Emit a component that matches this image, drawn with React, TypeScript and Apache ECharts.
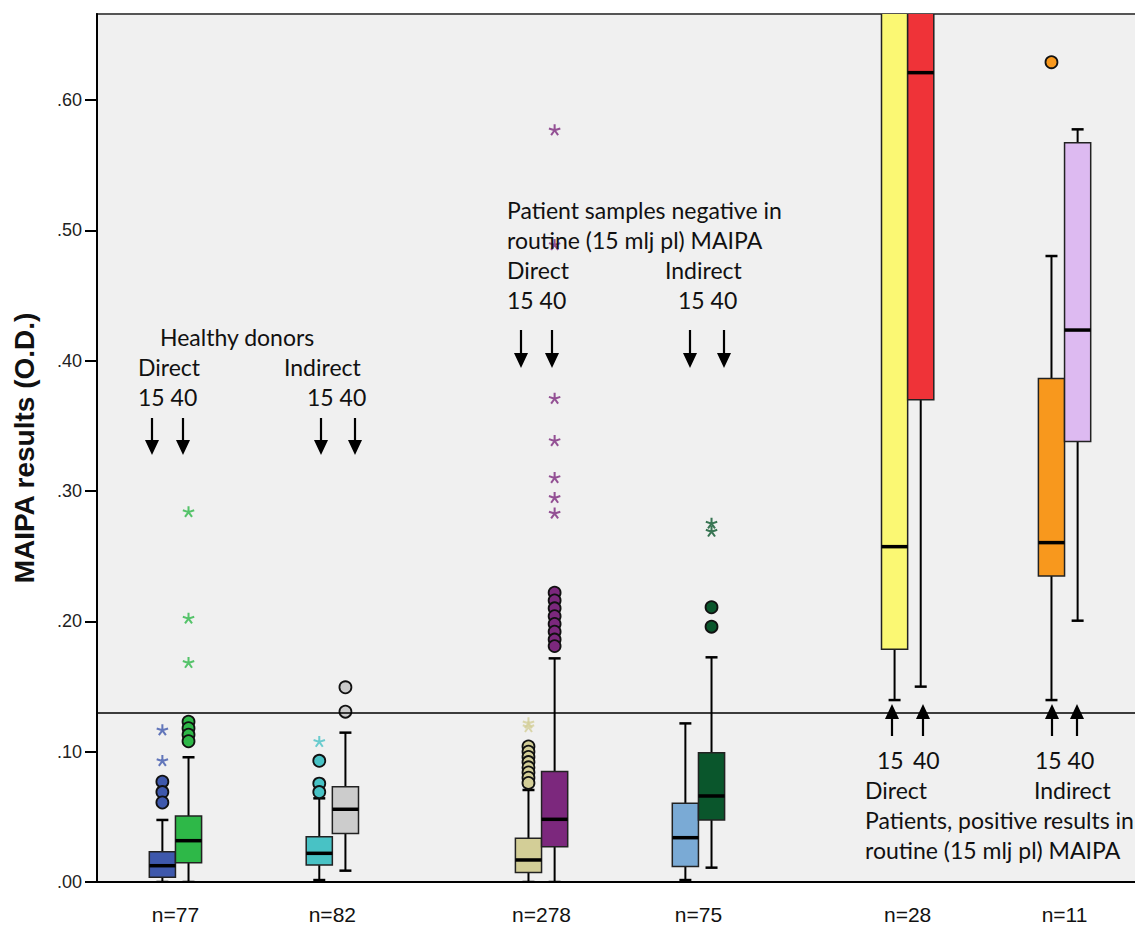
import React, { useEffect, useRef } from "react";
import * as echarts from "echarts";

// ---------- data ----------
const boxNames = [
  "Healthy Direct 15", "Healthy Direct 40", "Healthy Indirect 15", "Healthy Indirect 40",
  "Negative Direct 15", "Negative Direct 40", "Negative Indirect 15", "Negative Indirect 40",
  "Positive Direct 15", "Positive Direct 40", "Positive Indirect 15", "Positive Indirect 40",
];
const boxSlots = [2, 3, 8, 9, 16, 17, 22, 23, 30, 31, 36, 37];
const SLOT_COUNT = 40;

const whiskerLow = [0.0, 0.0, 0.0015, 0.0087, 0.0, 0.0, 0.0015, 0.011, 0.1396, 0.1499, 0.1396, 0.2005];
const q1 = [0.0036, 0.0148, 0.013, 0.0373, 0.0072, 0.0271, 0.0118, 0.0476, 0.1785, 0.37, 0.2348, 0.3379];
const median = [0.0125, 0.0317, 0.022, 0.0558, 0.0169, 0.0481, 0.034, 0.066, 0.2573, 0.621, 0.2604, 0.4235];
const q3 = [0.0233, 0.0506, 0.0348, 0.0731, 0.0335, 0.0847, 0.0604, 0.0992, 0.7, 0.7, 0.3864, 0.5673];
const whiskerHigh = [0.0476, 0.0957, 0.0642, 0.1146, 0.0706, 0.1716, 0.1217, 0.1724, 0.72, 0.72, 0.4803, 0.5775];

const circleOutliers: number[][] = [
  [0.077, 0.069, 0.061],
  [0.123, 0.118, 0.113, 0.108],
  [0.093, 0.0755, 0.069],
  [0.1494, 0.1307],
  [0.104, 0.1, 0.096, 0.092, 0.088, 0.084, 0.08, 0.076],
  [0.222, 0.216, 0.21, 0.204, 0.198, 0.192, 0.186, 0.181],
  [],
  [0.2108, 0.1959],
  [],
  [],
  [0.629],
  [],
];
const starOutliers: number[][] = [
  [0.1166, 0.093],
  [0.284, 0.2023, 0.1683],
  [0.1077],
  [],
  [0.122, 0.119],
  [0.577, 0.489, 0.371, 0.3386, 0.3102, 0.2949, 0.2829],
  [],
  [0.2752, 0.269],
  [],
  [],
  [],
  [],
];

const boxColors = [
  "#3E58AC", "#2EB848", "#48C2C5", "#CCCCCC", "#D3CE97", "#7C287D",
  "#7AAAD5", "#0A562C", "#FBF873", "#EF3338", "#F8981D", "#DDBAF1",
];

const nLabels = ["n=77", "n=82", "n=278", "n=75", "n=28", "n=11"];
const yTicks = [0, 0.1, 0.2, 0.3, 0.4, 0.5, 0.6];
const Y_MAX = 0.666;
const cutoff = 0.13;
const yAxisTitle = "MAIPA results (O.D.)";

// ---------- helpers ----------
function asteriskPath(): string {
  const R = 10;
  const w = 1.7;
  let d = "";
  for (let i = 0; i < 5; i++) {
    const a = ((-90 + 72 * i) * Math.PI) / 180;
    const c = Math.cos(a), s = Math.sin(a);
    const px = -s, py = c;
    const pts = [
      [px * w, py * w],
      [R * c + px * w, R * s + py * w],
      [R * c - px * w, R * s - py * w],
      [-px * w, -py * w],
    ];
    d += "M" + pts.map((p) => p[0].toFixed(2) + "," + p[1].toFixed(2)).join("L") + "Z";
  }
  return "path://" + d;
}

const FONT = "23px Lato, 'Open Sans', sans-serif";

function txt(s: string, x: number, y: number) {
  return {
    type: "text",
    x,
    y,
    silent: true,
    style: { text: s, font: FONT, fill: "#111", textVerticalAlign: "middle", textAlign: "left" },
    z: 10,
  };
}
function arrow(x: number, yStart: number, yTip: number) {
  const dir = yTip > yStart ? 1 : -1;
  const headH = 15;
  const headW = 7;
  return [
    {
      type: "line",
      silent: true,
      shape: { x1: x, y1: yStart, x2: x, y2: yTip - dir * headH + dir * 2 },
      style: { stroke: "#000", lineWidth: 2.2 },
      z: 10,
    },
    {
      type: "polygon",
      silent: true,
      shape: { points: [[x - headW, yTip - dir * headH], [x + headW, yTip - dir * headH], [x, yTip]] },
      style: { fill: "#000" },
      z: 10,
    },
  ];
}

export default function App() {
  const ref = useRef<HTMLDivElement>(null);

  useEffect(() => {
    if (!ref.current) return;
    const chart = echarts.init(ref.current, undefined, { renderer: "svg" });

    const categories = Array.from({ length: SLOT_COUNT }, (_, i) => {
      const k = boxSlots.indexOf(i);
      return k >= 0 ? boxNames[k] : `gap-${i}`;
    });
    const boundaryCats = Array.from({ length: SLOT_COUNT + 1 }, (_, i) => `b-${i}`);
    const nLabelAt: Record<number, string> = {};
    nLabels.forEach((lab, g) => {
      nLabelAt[(boxSlots[2 * g] + boxSlots[2 * g + 1] + 1) / 2] = lab;
    });

    const boxData = boxSlots.map((slot, i) => [slot, whiskerLow[i], q1[i], median[i], q3[i], whiskerHigh[i]]);

    const circleData: any[] = [];
    const starData: any[] = [];
    boxSlots.forEach((slot, i) => {
      circleOutliers[i].forEach((v) =>
        circleData.push({ value: [slot, v], itemStyle: { color: boxColors[i] } })
      );
      starOutliers[i].forEach((v) =>
        starData.push({ value: [slot, v], itemStyle: { color: boxColors[i] } })
      );
    });

    const graphics: any[] = [
      // Healthy donors
      txt("Healthy donors", 160, 337),
      txt("Direct", 138, 367),
      txt("Indirect", 284, 367),
      txt("15 40", 138, 397),
      txt("15 40", 307, 397),
      ...arrow(152, 418, 455),
      ...arrow(183, 418, 455),
      ...arrow(321, 418, 455),
      ...arrow(355, 418, 455),
      // Negative
      txt("Patient samples negative in", 507, 210),
      txt("routine (15 mlj pl) MAIPA", 507, 240),
      txt("Direct", 507, 270),
      txt("Indirect", 665, 270),
      txt("15 40", 507, 300),
      txt("15 40", 678, 300),
      ...arrow(521, 330, 368),
      ...arrow(552, 330, 368),
      ...arrow(690, 330, 368),
      ...arrow(724, 330, 368),
      // Positive
      ...arrow(892, 736, 704),
      ...arrow(923, 736, 704),
      ...arrow(1052, 736, 704),
      ...arrow(1077, 736, 704),
      txt("15", 877, 760),
      txt("40", 913, 760),
      txt("15 40", 1035, 760),
      txt("Direct", 865, 790),
      txt("Indirect", 1034, 790),
      txt("Patients, positive results in", 865, 820),
      txt("routine (15 mlj pl) MAIPA", 865, 850),
    ];

    const option: any = {
      animation: false,
      backgroundColor: "#ffffff",
      grid: {
        left: 97,
        top: 14,
        width: 1046,
        height: 868,
        show: true,
        backgroundColor: "#F0F0F0",
        borderColor: "#555",
        borderWidth: 2,
        containLabel: false,
        outerBoundsMode: "none",
      },
      xAxis: [
        {
          type: "category",
          data: categories,
          boundaryGap: true,
          position: "bottom",
          axisLine: { show: true, lineStyle: { color: "#000", width: 2 } },
          axisTick: { show: false },
          axisLabel: { show: false },
          splitLine: { show: false },
        },
        {
          type: "category",
          data: boundaryCats,
          boundaryGap: false,
          position: "bottom",
          axisLine: { show: false },
          axisTick: { show: false },
          splitLine: { show: false },
          axisLabel: {
            show: true,
            interval: 0,
            margin: 22,
            color: "#111",
            fontSize: 21,
            fontFamily: "Arial, 'Liberation Sans', sans-serif",
            formatter: (_v: string, idx: number) => nLabelAt[idx] ?? "",
          },
        },
      ],
      yAxis: {
        type: "value",
        min: 0,
        max: Y_MAX,
        interval: 0.1,
        name: yAxisTitle,
        nameLocation: "middle",
        nameRotate: 90,
        nameGap: 59,
        nameTextStyle: {
          fontSize: 28,
          fontWeight: "bold",
          color: "#111",
          fontFamily: "Arial, 'Liberation Sans', sans-serif",
        },
        axisLine: { show: true, lineStyle: { color: "#000", width: 2 } },
        axisTick: { show: true, length: 12, customValues: yTicks, lineStyle: { color: "#000", width: 2 } },
        axisLabel: {
          customValues: yTicks,
          margin: 15,
          fontSize: 18,
          color: "#222",
          fontFamily: "Arial, 'Liberation Sans', sans-serif",
          formatter: (v: number) => v.toFixed(2).replace(/^0/, ""),
        },
        splitLine: { show: false },
      },
      series: [
        {
          type: "custom",
          name: "boxes",
          xAxisIndex: 0,
          clip: true,
          data: boxData,
          encode: { x: 0, y: [1, 2, 3, 4, 5] },
          renderItem: (params: any, api: any) => {
            const idx = api.value(0);
            const lo = api.coord([idx, api.value(1)]);
            const b1 = api.coord([idx, api.value(2)]);
            const md = api.coord([idx, api.value(3)]);
            const b3 = api.coord([idx, api.value(4)]);
            const hi = api.coord([idx, api.value(5)]);
            const band = api.size([1, 0])[0];
            const bw = band;
            const cx = md[0];
            const color = boxColors[params.dataIndex];
            const capW = 6;
            return {
              type: "group",
              children: [
                { type: "line", shape: { x1: cx, y1: hi[1], x2: cx, y2: b3[1] }, style: { stroke: "#000", lineWidth: 2 } },
                { type: "line", shape: { x1: cx, y1: b1[1], x2: cx, y2: lo[1] }, style: { stroke: "#000", lineWidth: 2 } },
                { type: "line", shape: { x1: cx - capW, y1: hi[1], x2: cx + capW, y2: hi[1] }, style: { stroke: "#000", lineWidth: 2.5 } },
                { type: "line", shape: { x1: cx - capW, y1: lo[1], x2: cx + capW, y2: lo[1] }, style: { stroke: "#000", lineWidth: 2.5 } },
                {
                  type: "rect",
                  shape: { x: cx - bw / 2, y: b3[1], width: bw, height: b1[1] - b3[1] },
                  style: { fill: color, stroke: "#222", lineWidth: 1.5 },
                },
                {
                  type: "line",
                  shape: { x1: cx - bw / 2, y1: md[1], x2: cx + bw / 2, y2: md[1] },
                  style: { stroke: "#000", lineWidth: 3.5 },
                },
              ],
            };
          },
          z: 3,
        },
        {
          type: "scatter",
          name: "circles",
          xAxisIndex: 0,
          symbol: "circle",
          symbolSize: 12,
          clip: true,
          data: circleData,
          itemStyle: { borderColor: "#111", borderWidth: 1.8, opacity: 1 },
          markLine: {
            silent: true,
            symbol: "none",
            label: { show: false },
            lineStyle: { color: "#000", width: 1.6, type: "solid" },
            data: [{ yAxis: cutoff }],
          },
          z: 4,
        },
        {
          type: "scatter",
          name: "stars",
          xAxisIndex: 0,
          symbol: asteriskPath(),
          symbolSize: 12,
          symbolKeepAspect: true,
          clip: true,
          data: starData,
          z: 4,
        },
      ],
      graphic: graphics,
    };

    chart.setOption(option);
    return () => chart.dispose();
  }, []);

  return (
    <div
      ref={ref}
      style={{ position: "absolute", left: 0, top: 0, width: 1135, height: 926 }}
    />
  );
}
